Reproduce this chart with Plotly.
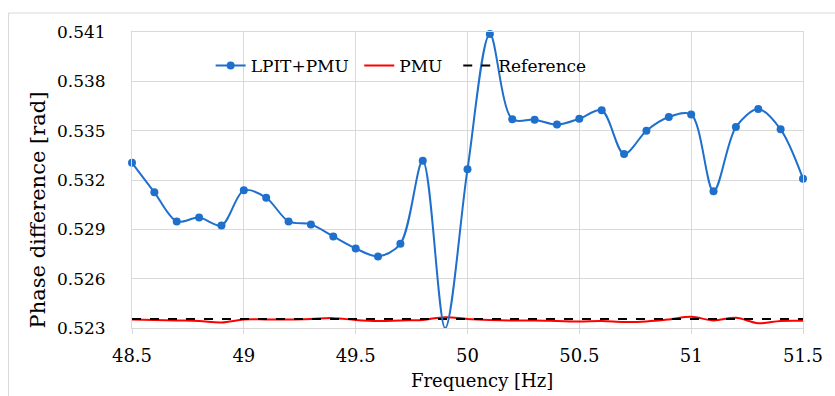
import plotly.graph_objects as go

freq = [48.5, 48.6, 48.7, 48.8, 48.9, 49.0, 49.1, 49.2, 49.3, 49.4, 49.5,
        49.6, 49.7, 49.8, 49.9, 50.0, 50.1, 50.2, 50.3, 50.4, 50.5,
        50.6, 50.7, 50.8, 50.9, 51.0, 51.1, 51.2, 51.3, 51.4, 51.5]

lpit_pmu = [0.53305, 0.53125, 0.52948, 0.52972, 0.52924, 0.53137, 0.53092, 0.52948,
            0.52930, 0.52857, 0.52784, 0.52735, 0.52812, 0.53317, 0.52299, 0.53266,
            0.54088, 0.53569, 0.53567, 0.53537, 0.53573, 0.53624, 0.53358, 0.53500,
            0.53583, 0.53599, 0.53131, 0.53522, 0.53631, 0.53508, 0.53208]

pmu = [0.52352, 0.52349, 0.52346, 0.52343, 0.52334, 0.52352, 0.52352, 0.52352,
       0.52355, 0.52360, 0.52349, 0.52343, 0.52346, 0.52349, 0.52366, 0.52355,
       0.52349, 0.52346, 0.52346, 0.52343, 0.52340, 0.52343, 0.52337, 0.52340,
       0.52352, 0.52368, 0.52346, 0.52362, 0.52329, 0.52343, 0.52344]

reference = [0.52355] * len(freq)

y_ticks = [0.523, 0.526, 0.529, 0.532, 0.535, 0.538, 0.541]
x_ticks = [48.5, 49, 49.5, 50, 50.5, 51, 51.5]

FONT = "DejaVu Serif"
GRID = "#d9d9d9"
BLUE = "#1f6fcc"

fig = go.Figure()
fig.add_trace(go.Scatter(
    x=freq, y=pmu, name="PMU\u00a0\u00a0", mode="lines", legendrank=2,
    line=dict(color="#ff0000", width=2, shape="spline", smoothing=1.0)))
fig.add_trace(go.Scatter(
    x=freq, y=reference, name="Reference", mode="lines", legendrank=3,
    line=dict(color="#000000", width=2, dash="dash")))
fig.add_trace(go.Scatter(
    x=freq, y=lpit_pmu, name="LPIT+PMU\u00a0", mode="lines+markers", legendrank=1,
    line=dict(color=BLUE, width=2, shape="spline", smoothing=0.9),
    marker=dict(color=BLUE, size=8), cliponaxis=False))

L, R, T, B = 132, 29, 32, 68
W, H = 835, 396
pw, ph = W - L - R, H - T - B

def px_x(px):
    return (px - L) / pw

def px_y(py):
    return (H - B - py) / ph

# outer chart frame (light grey border)
fig.add_shape(type="rect", xref="paper", yref="paper",
              x0=px_x(8), x1=px_x(845), y0=px_y(13), y1=px_y(410),
              line=dict(color=GRID, width=1), fillcolor="rgba(0,0,0,0)",
              layer="below")

# axis titles (placed as in the reference)
fig.add_annotation(text="Frequency [Hz]", xref="paper", yref="paper",
                   x=px_x(484), y=px_y(381), xanchor="center", yanchor="middle",
                   showarrow=False, font=dict(family=FONT, size=18, color="#000000"))
fig.add_annotation(text="Phase difference [rad]", xref="paper", yref="paper",
                   x=px_x(38), y=px_y(210), xanchor="center", yanchor="middle",
                   textangle=-90, showarrow=False,
                   font=dict(family=FONT, size=21, color="#000000"))

fig.update_layout(
    width=W, height=H,
    margin=dict(l=L, r=R, t=T, b=B),
    paper_bgcolor="white", plot_bgcolor="white",
    font=dict(family=FONT, color="#000000"),
    showlegend=True,
    legend=dict(orientation="h", x=px_x(211), xanchor="left",
                y=px_y(66), yanchor="middle", traceorder="normal",
                bgcolor="rgba(0,0,0,0)", font=dict(family=FONT, size=17),
                itemwidth=30, tracegroupgap=0),
)
fig.update_xaxes(
    range=[48.5, 51.5], tickvals=x_ticks, ticktext=[str(v) for v in x_ticks],
    showgrid=True, gridcolor=GRID, gridwidth=1,
    showline=True, linecolor=GRID, mirror=True,
    ticks="outside", ticklen=5, tickcolor=GRID,
    tickfont=dict(family=FONT, size=18), ticklabelstandoff=6,
    zeroline=False)
fig.update_yaxes(
    range=[0.523, 0.541], tickvals=y_ticks, ticktext=[f"{v:.3f}" for v in y_ticks],
    showgrid=True, gridcolor=GRID, gridwidth=1,
    showline=True, linecolor=GRID, mirror=True,
    ticks="", tickfont=dict(family=FONT, size=17), ticklabelstandoff=22,
    zeroline=False)

fig.write_html("out.html")
